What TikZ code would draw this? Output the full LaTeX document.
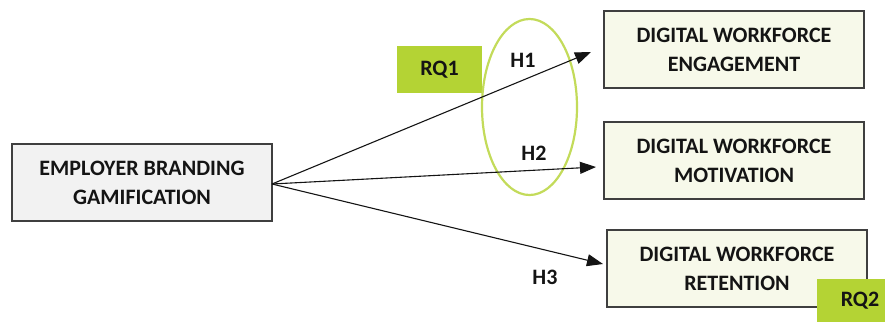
\documentclass[tikz,border=0pt]{standalone}
\usepackage{fontspec}
\setmainfont{Carlito}
\usetikzlibrary{arrows.meta,shapes.geometric}
\definecolor{boxline}{HTML}{3F3F3F}
\definecolor{srcfill}{HTML}{F2F2F2}
\definecolor{dstfill}{HTML}{F7F9EA}
\definecolor{rqfill}{HTML}{B4D334}
\definecolor{ringcol}{HTML}{C3DB5A}
\definecolor{inkcol}{HTML}{141414}
\tikzset{
  box/.style={draw=boxline, line width=1.4pt, minimum width=260pt, minimum height=77pt,
    align=center, inner sep=0pt, font=\fontsize{22}{29}\selectfont\bfseries, text=inkcol},
  srcbox/.style={box, fill=srcfill},
  dstbox/.style={box, fill=dstfill},
  rqbox/.style={fill=rqfill, inner sep=0pt, font=\fontsize{22}{24}\selectfont\bfseries, text=inkcol},
  hlabel/.style={font=\fontsize{22}{24}\selectfont\bfseries, text=inkcol},
  link/.style={draw=inkcol, line width=1.1pt, -{Triangle[length=16pt,width=12pt]}}
}
\begin{document}
\begin{tikzpicture}[x=1pt,y=-1pt]
  \useasboundingbox (0,0) rectangle (885,322);

  % research-question tags
  \node[rqbox, minimum width=85pt, minimum height=47pt] (rq1) at (439.5,69.5) {RQ1};

  % source and outcome boxes
  \node[srcbox] (src) at (142,182.5) {EMPLOYER BRANDING\\GAMIFICATION};
  \node[dstbox] (eng) at (734,49.5) {DIGITAL WORKFORCE\\ENGAGEMENT};
  \node[dstbox] (mot) at (734,160.5) {DIGITAL WORKFORCE\\MOTIVATION};
  \node[dstbox] (ret) at (737,268.5) {DIGITAL WORKFORCE\\RETENTION};

  \node[rqbox, minimum width=68pt, minimum height=43pt, anchor=north west,
        text width=68pt, align=right] (rq2) at (817,279) {RQ2\hspace*{6pt}};

  % grouping ring around H1 and H2
  \node[draw=ringcol, line width=2.2pt, ellipse, minimum width=95pt, minimum height=176pt,
        inner sep=0pt] (ring) at (529.5,107) {};

  % arrow start and tip points
  \coordinate (o) at (272,184);
  \coordinate (t1) at (591,52);
  \coordinate (t2) at (596,167);
  \coordinate (t3) at (603,264);

  \draw[link] (o) -- (t1);
  \draw[link] (o) -- (t2);
  \draw[link] (o) -- (t3);

  \node[hlabel] (h1) at (523,60) {H1};
  \node[hlabel] (h2) at (534,153) {H2};
  \node[hlabel] (h3) at (545,277) {H3};
\end{tikzpicture}
\end{document}
